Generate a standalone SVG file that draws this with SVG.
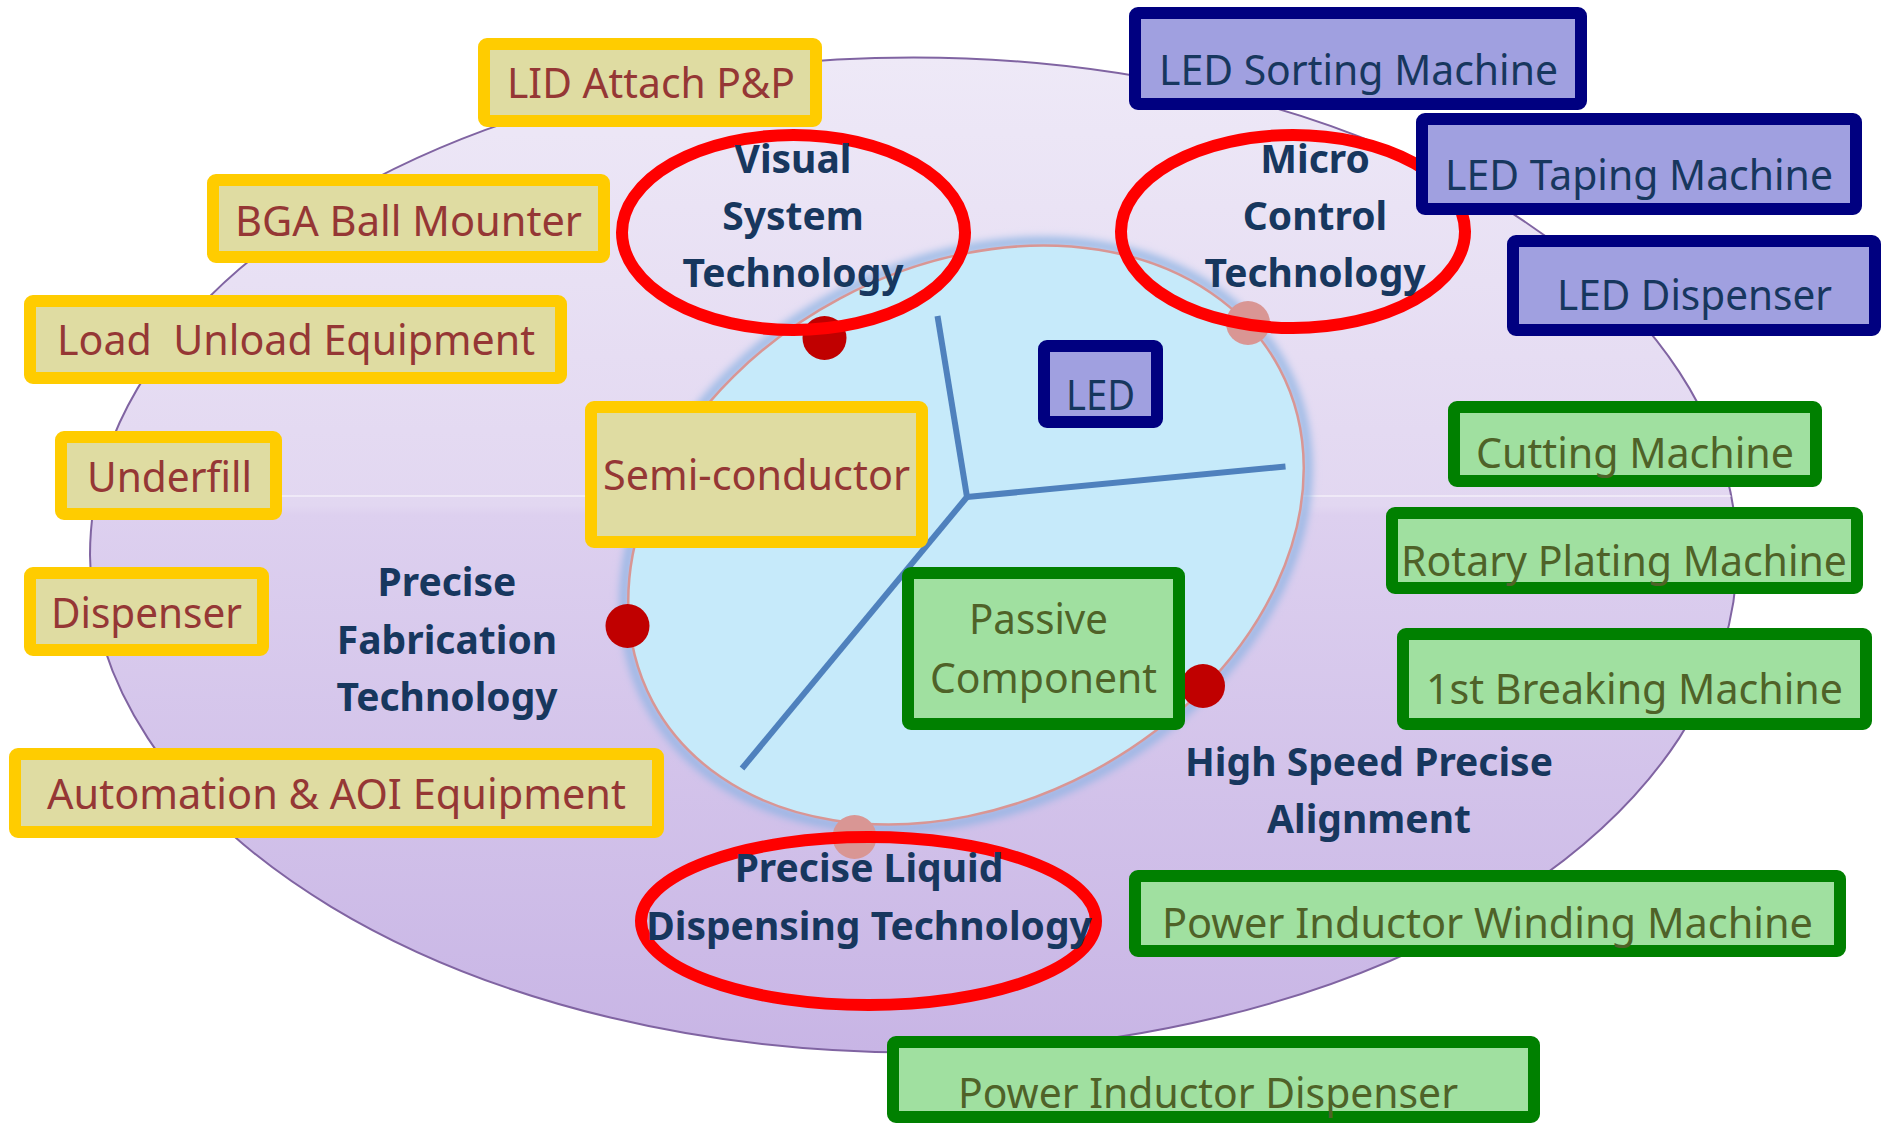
<svg xmlns="http://www.w3.org/2000/svg" width="1881" height="1124" viewBox="0 0 1881 1124">
<style>
.lbl{font-family:"Noto Sans","Open Sans","Liberation Sans",sans-serif;font-size:41px}
.bld{font-family:"Noto Sans","Open Sans","Liberation Sans",sans-serif;font-size:39px;font-weight:bold;fill:#17375e;text-anchor:middle}
.yb rect{fill:#dfdca2;stroke:#ffcc00;stroke-width:12}
.yb text{fill:#953735}
.bb rect{fill:#a0a0e0;stroke:#000080;stroke-width:12}
.bb text{fill:#17375e}
.gb rect{fill:#a0e0a0;stroke:#008000;stroke-width:12}
.gb text{fill:#4f6228}
.ring{fill:none;stroke:#ff0000;stroke-width:12}
.rdot{fill:#c00000}
.pdot{fill:#d99694}
.spoke{stroke:#4f81bd;stroke-width:6;fill:none}
</style>
<defs>
<linearGradient id="purp" x1="0" y1="0" x2="0" y2="1">
<stop offset="0" stop-color="#eee9f7"/>
<stop offset="0.45" stop-color="#e2d7f1"/>
<stop offset="0.46" stop-color="#ddd0ef"/>
<stop offset="1" stop-color="#c8b5e5"/>
</linearGradient>
<filter id="glow" x="-10%" y="-10%" width="120%" height="120%">
<feGaussianBlur stdDeviation="4"/>
</filter>
<clipPath id="bigclip"><ellipse cx="913.5" cy="555" rx="823.5" ry="497.5"/></clipPath>
</defs>

<g id="outer-ellipse">
<ellipse cx="913.5" cy="555" rx="823.5" ry="497.5" fill="url(#purp)" stroke="#8064a2" stroke-width="2"/>
<line x1="80" y1="496" x2="1750" y2="496" stroke="#ffffff" stroke-opacity="0.45" stroke-width="2" clip-path="url(#bigclip)"/>
</g>

<g id="inner-ellipse" transform="rotate(-28 966 535)">
<ellipse cx="966" cy="535" rx="359" ry="272" fill="none" stroke="#8eb4e3" stroke-width="8" filter="url(#glow)"/>
<ellipse cx="966" cy="535" rx="355" ry="268" fill="#c6eafa" stroke="#d99694" stroke-width="2.5"/>
</g>

<g id="connectors">
<line class="spoke" x1="937.5" y1="316" x2="967" y2="497"/>
<line class="spoke" x1="967" y1="497" x2="1285.5" y2="466.5"/>
<line class="spoke" x1="967" y1="497" x2="742" y2="768.5"/>
</g>

<g id="dots">
<circle class="rdot" cx="824.5" cy="338" r="22"/>
<circle class="rdot" cx="627.5" cy="626" r="22"/>
<circle class="rdot" cx="1203" cy="686" r="22"/>
<circle class="pdot" cx="1248" cy="323" r="22"/>
<circle class="pdot" cx="854.5" cy="837" r="22"/>
</g>

<g id="node-semiconductor" class="yb"><rect x="591" y="407" width="331" height="135" rx="3"/><text class="lbl" x="603" y="490" textLength="307" lengthAdjust="spacingAndGlyphs">Semi-conductor</text></g>
<g id="node-led" class="bb"><rect x="1044" y="346" width="113" height="76" rx="3"/><text class="lbl" x="1066" y="410" textLength="69" lengthAdjust="spacingAndGlyphs">LED</text></g>
<g id="node-passive" class="gb"><rect x="908" y="573" width="271" height="151" rx="3"/><text class="lbl" x="969" y="634" textLength="139" lengthAdjust="spacingAndGlyphs">Passive</text><text class="lbl" x="930" y="693" textLength="227" lengthAdjust="spacingAndGlyphs">Component</text></g>

<g id="ring-visual"><ellipse class="ring" cx="793.5" cy="232.5" rx="171.5" ry="97.5"/><text class="bld" x="793" y="173">Visual</text><text class="bld" x="793" y="230">System</text><text class="bld" x="793" y="287">Technology</text></g>
<g id="ring-micro"><ellipse class="ring" cx="1293" cy="231.5" rx="172" ry="96.5"/><text class="bld" x="1315" y="173">Micro</text><text class="bld" x="1315" y="230">Control</text><text class="bld" x="1315" y="287">Technology</text></g>
<g id="ring-liquid"><ellipse class="ring" cx="868.5" cy="921" rx="227.5" ry="84"/><text class="bld" x="869" y="882">Precise Liquid</text><text class="bld" x="869" y="940">Dispensing Technology</text></g>
<g id="label-fabrication"><text class="bld" x="447" y="596">Precise</text><text class="bld" x="447" y="654">Fabrication</text><text class="bld" x="447" y="711">Technology</text></g>
<g id="label-alignment"><text class="bld" x="1369" y="776">High Speed Precise</text><text class="bld" x="1369" y="833">Alignment</text></g>

<g id="node-lid" class="yb"><rect x="484" y="44" width="332" height="77" rx="3"/><text class="lbl" x="507" y="98" textLength="288" lengthAdjust="spacingAndGlyphs">LID Attach P&amp;P</text></g>
<g id="node-bga" class="yb"><rect x="213" y="180" width="391" height="77" rx="3"/><text class="lbl" x="235" y="236" textLength="347" lengthAdjust="spacingAndGlyphs">BGA Ball Mounter</text></g>
<g id="node-load" class="yb"><rect x="30" y="301" width="531" height="77" rx="3"/><text class="lbl" x="57" y="355" textLength="478" lengthAdjust="spacingAndGlyphs" xml:space="preserve">Load  Unload Equipment</text></g>
<g id="node-underfill" class="yb"><rect x="61" y="437" width="215" height="77" rx="3"/><text class="lbl" x="87" y="492" textLength="165" lengthAdjust="spacingAndGlyphs">Underfill</text></g>
<g id="node-dispenser" class="yb"><rect x="30" y="573" width="233" height="77" rx="3"/><text class="lbl" x="51" y="628" textLength="191" lengthAdjust="spacingAndGlyphs">Dispenser</text></g>
<g id="node-automation" class="yb"><rect x="15" y="754" width="643" height="78" rx="3"/><text class="lbl" x="47" y="809" textLength="579" lengthAdjust="spacingAndGlyphs">Automation &amp; AOI Equipment</text></g>

<g id="node-led-sorting" class="bb"><rect x="1135" y="13" width="446" height="91" rx="3"/><text class="lbl" x="1159" y="85" textLength="399" lengthAdjust="spacingAndGlyphs">LED Sorting Machine</text></g>
<g id="node-led-taping" class="bb"><rect x="1422" y="119" width="434" height="90" rx="3"/><text class="lbl" x="1445" y="190" textLength="388" lengthAdjust="spacingAndGlyphs">LED Taping Machine</text></g>
<g id="node-led-dispenser" class="bb"><rect x="1513" y="241" width="362" height="89" rx="3"/><text class="lbl" x="1557" y="310" textLength="275" lengthAdjust="spacingAndGlyphs">LED Dispenser</text></g>

<g id="node-cutting" class="gb"><rect x="1454" y="407" width="362" height="74" rx="3"/><text class="lbl" x="1476" y="468" textLength="318" lengthAdjust="spacingAndGlyphs">Cutting Machine</text></g>
<g id="node-rotary" class="gb"><rect x="1392" y="513" width="465" height="75" rx="3"/><text class="lbl" x="1401" y="576" textLength="446" lengthAdjust="spacingAndGlyphs">Rotary Plating Machine</text></g>
<g id="node-breaking" class="gb"><rect x="1403" y="634" width="463" height="90" rx="3"/><text class="lbl" x="1426" y="704" textLength="417" lengthAdjust="spacingAndGlyphs">1st Breaking Machine</text></g>
<g id="node-winding" class="gb"><rect x="1135" y="876" width="705" height="75" rx="3"/><text class="lbl" x="1162" y="938" textLength="651" lengthAdjust="spacingAndGlyphs">Power Inductor Winding Machine</text></g>
<g id="node-pi-dispenser" class="gb"><rect x="893" y="1042" width="641" height="75" rx="3"/><text class="lbl" x="958" y="1108" textLength="500" lengthAdjust="spacingAndGlyphs">Power Inductor Dispenser</text></g>
</svg>
